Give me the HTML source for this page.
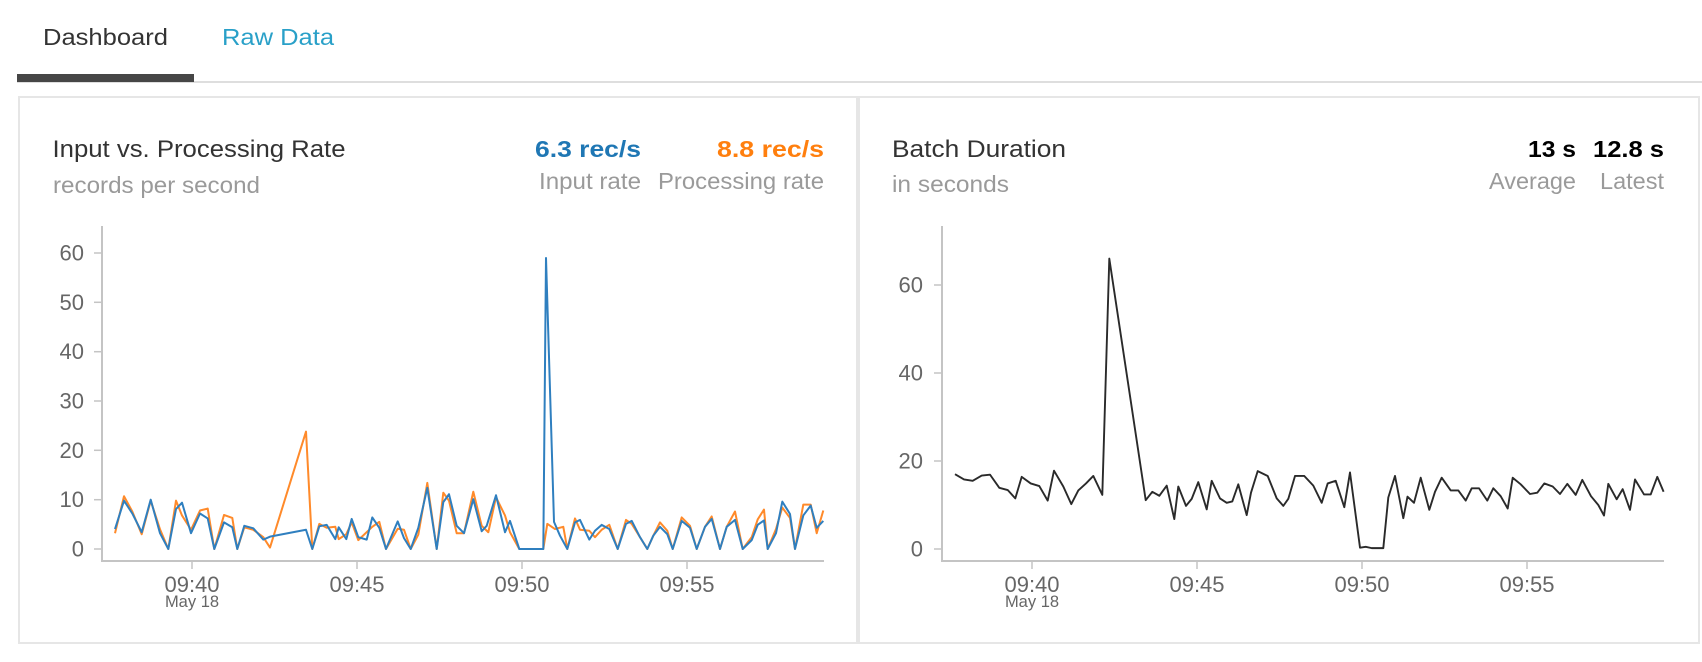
<!DOCTYPE html>
<html>
<head>
<meta charset="utf-8">
<style>
  html, body { margin: 0; padding: 0; background: #fff; }
  body { width: 1702px; height: 662px; overflow: hidden; }
  svg { display: block; }
  text { font-family: "Liberation Sans", Arial, Helvetica, sans-serif; }
</style>
</head>
<body>
<svg width="1702" height="662" viewBox="0 0 1702 662" xmlns="http://www.w3.org/2000/svg">
  <rect x="0" y="0" width="1702" height="662" fill="#ffffff"/>

  <!-- Tabs -->
  <text x="43" y="45" font-size="23" fill="#333" textLength="125" lengthAdjust="spacingAndGlyphs">Dashboard</text>
  <text x="222" y="45" font-size="23" fill="#29a0c8" textLength="112" lengthAdjust="spacingAndGlyphs">Raw Data</text>
  <rect x="17" y="81" width="1685" height="2" fill="#dedede"/>
  <rect x="17" y="74" width="177" height="8" fill="#464646"/>

  <!-- Panels -->
  <rect x="19" y="97" width="838" height="546" fill="none" stroke="#e6e6e6" stroke-width="2"/>
  <rect x="859" y="97" width="840" height="546" fill="none" stroke="#e6e6e6" stroke-width="2"/>

  <!-- Left panel header -->
  <text x="52.5" y="157" font-size="24" fill="#333" textLength="293" lengthAdjust="spacingAndGlyphs">Input vs. Processing Rate</text>
  <text x="53" y="193" font-size="23" fill="#9a9a9a" textLength="207" lengthAdjust="spacingAndGlyphs">records per second</text>
  <text x="535" y="157" font-size="23" font-weight="bold" fill="#1f77b4" textLength="106" lengthAdjust="spacingAndGlyphs">6.3 rec/s</text>
  <text x="717" y="157" font-size="23" font-weight="bold" fill="#ff7f0e" textLength="107" lengthAdjust="spacingAndGlyphs">8.8 rec/s</text>
  <text x="539" y="189" font-size="23" fill="#9a9a9a" textLength="102" lengthAdjust="spacingAndGlyphs">Input rate</text>
  <text x="658" y="189" font-size="23" fill="#9a9a9a" textLength="166" lengthAdjust="spacingAndGlyphs">Processing rate</text>

  <!-- Right panel header -->
  <text x="892" y="157" font-size="24" fill="#333" textLength="174" lengthAdjust="spacingAndGlyphs">Batch Duration</text>
  <text x="892" y="192" font-size="23" fill="#9a9a9a" textLength="117" lengthAdjust="spacingAndGlyphs">in seconds</text>
  <text x="1528" y="157" font-size="23" font-weight="bold" fill="#000" textLength="48" lengthAdjust="spacingAndGlyphs">13 s</text>
  <text x="1593" y="157" font-size="23" font-weight="bold" fill="#000" textLength="71" lengthAdjust="spacingAndGlyphs">12.8 s</text>
  <text x="1489" y="189" font-size="23" fill="#9a9a9a" textLength="87" lengthAdjust="spacingAndGlyphs">Average</text>
  <text x="1600" y="189" font-size="23" fill="#9a9a9a" textLength="64" lengthAdjust="spacingAndGlyphs">Latest</text>

  <!-- LEFT CHART AXES -->
  <g stroke="#c4c4c4" fill="none">
    <line x1="102" y1="226" x2="102" y2="562" stroke-width="2"/>
    <line x1="101" y1="561" x2="824" y2="561" stroke-width="2"/>
    <g stroke-width="1.5">
      <line x1="94" y1="549" x2="102" y2="549"/>
      <line x1="94" y1="499.7" x2="102" y2="499.7"/>
      <line x1="94" y1="450.3" x2="102" y2="450.3"/>
      <line x1="94" y1="401" x2="102" y2="401"/>
      <line x1="94" y1="351.7" x2="102" y2="351.7"/>
      <line x1="94" y1="302.3" x2="102" y2="302.3"/>
      <line x1="94" y1="253" x2="102" y2="253"/>
      <line x1="192" y1="561" x2="192" y2="569"/>
      <line x1="357" y1="561" x2="357" y2="569"/>
      <line x1="522" y1="561" x2="522" y2="569"/>
      <line x1="687" y1="561" x2="687" y2="569"/>
    </g>
  </g>
  <g font-size="22" fill="#666" text-anchor="end">
    <text x="84" y="556.5">0</text>
    <text x="84" y="507.2">10</text>
    <text x="84" y="457.8">20</text>
    <text x="84" y="408.5">30</text>
    <text x="84" y="359.2">40</text>
    <text x="84" y="309.8">50</text>
    <text x="84" y="260.5">60</text>
  </g>
  <g font-size="22" fill="#666" text-anchor="middle">
    <text x="192" y="592">09:40</text>
    <text x="357" y="592">09:45</text>
    <text x="522" y="592">09:50</text>
    <text x="687" y="592">09:55</text>
  </g>
  <text x="192" y="607" font-size="16.5" fill="#666" text-anchor="middle">May 18</text>

  <!-- LEFT CHART DATA -->
  <g transform="matrix(1 0 0 -4.933 0 549)" fill="none" stroke-linejoin="round">
    <polyline vector-effect="non-scaling-stroke" stroke="#ff8a2a" stroke-width="2" points="
115,3.2 124,10.7 132.3,7.6 141.7,3.0 150.7,9.8 160,4.0 168.3,0 176,9.8 182,6.8 191,3.9 200,7.8 207.7,8.2 214.3,0 224,6.9 232.3,6.3 237.3,0 244.3,4.4 253.3,3.9 263.3,2.4 270,0.3 306,23.8 312.3,0 319.3,5.1 326.7,4.3 335.3,4.5 338.7,2.0 346.3,3.0 351.7,5.4 358.3,1.8 372.3,4.5 379.3,5.5 386,0 397.7,4.1 404,3.9 410.7,0 418.3,2.9 427.3,13.4 436.7,0 443.3,11.4 449,9.8 456.7,3.2 464,3.2 473.3,11.6 481.7,4.7 488.3,3.4 496,10.5 505,6.8 510,3.4 519.3,0 543.3,0 547.3,5.1 555,4.05 563.3,4.5 567.3,0 575,6.2 580,3.9 589.3,3.7 595,2.4 601.7,3.9 609.3,4.9 617.7,0 626,5.9 631.7,5.1 640,2.4 647.3,0 653.3,2.7 660,5.4 667.3,3.7 672.7,0 681.7,6.4 690,4.7 696.7,0 705,4.5 711.7,6.6 720,0 726.7,4.5 735,7.6 742.7,0 751.7,2.4 757.7,6.0 764,8.0 767.7,0 776,4.05 782.3,8.4 790,6.3 795,0 803.3,9.0 810.7,9.0 816.7,3.2 823.3,7.8"/>
    <polyline vector-effect="non-scaling-stroke" stroke="#2f7fbf" stroke-width="2" points="
115,4.05 124,9.8 132.3,7.2 141.7,3.4 150.7,10 160,3.2 168.3,0 176,8.1 182,9.4 191,3.2 200,7.2 207.7,6.2 214.3,0 224,5.4 232.3,4.4 237.3,0 244.3,4.7 253.3,4.2 263.3,1.9 270,2.5 306,3.9 312.3,0 319.3,4.6 326.7,4.9 335.3,2.0 338.7,4.4 346.3,2.0 351.7,6.1 358.3,2.4 366.7,1.9 372.3,6.4 379.3,4.3 386,0 397.7,5.6 404,2.2 410.7,0 418.3,4.3 427.3,12.4 436.7,0 443.3,9.5 449,11.1 456.7,4.7 464,3.2 473.3,10.1 481.7,3.6 486.7,4.7 496,10.9 505,3.4 510,5.7 519.3,0 543.3,0 546,59 554,5.5 560,2.7 567.3,0 575,5.4 580,5.9 589.3,1.9 595,3.7 601.7,4.9 609.3,4.05 617.7,0 626,5.1 631.7,5.7 640,2.4 647.3,0 653.3,2.7 660,4.5 667.3,3.0 672.7,0 681.7,5.7 690,4.3 696.7,0 705,4.5 711.7,6.1 720,0 726.7,4.5 735,5.9 742.7,0 751.7,1.8 757.7,4.9 764,5.8 767.7,0 776,3.2 782.3,9.6 790,7.1 795,0 803.3,6.8 810.7,8.8 816.7,4.3 823.3,5.7"/>
  </g>

  <!-- RIGHT CHART AXES -->
  <g stroke="#c4c4c4" fill="none">
    <line x1="942" y1="226" x2="942" y2="562" stroke-width="2"/>
    <line x1="941" y1="561" x2="1664" y2="561" stroke-width="2"/>
    <g stroke-width="1.5">
      <line x1="934" y1="549" x2="942" y2="549"/>
      <line x1="934" y1="461" x2="942" y2="461"/>
      <line x1="934" y1="373" x2="942" y2="373"/>
      <line x1="934" y1="285" x2="942" y2="285"/>
      <line x1="1032" y1="561" x2="1032" y2="569"/>
      <line x1="1197" y1="561" x2="1197" y2="569"/>
      <line x1="1362" y1="561" x2="1362" y2="569"/>
      <line x1="1527" y1="561" x2="1527" y2="569"/>
    </g>
  </g>
  <g font-size="22" fill="#666" text-anchor="end">
    <text x="923" y="556.5">0</text>
    <text x="923" y="468.5">20</text>
    <text x="923" y="380.5">40</text>
    <text x="923" y="292.5">60</text>
  </g>
  <g font-size="22" fill="#666" text-anchor="middle">
    <text x="1032" y="592">09:40</text>
    <text x="1197" y="592">09:45</text>
    <text x="1362" y="592">09:50</text>
    <text x="1527" y="592">09:55</text>
  </g>
  <text x="1032" y="607" font-size="16.5" fill="#666" text-anchor="middle">May 18</text>

  <!-- RIGHT CHART DATA -->
  <g transform="matrix(1 0 0 -4.4 0 549)" fill="none" stroke-linejoin="round">
    <polyline vector-effect="non-scaling-stroke" stroke="#2a2a2a" stroke-width="1.9" points="
955,17.0 964,15.8 972.7,15.5 981.7,16.7 990,16.9 999.3,13.9 1007.7,13.4 1015.3,11.5 1021.7,16.4 1030.7,14.9 1039.3,14.3 1047.7,11.0 1054,17.8 1063.3,14.2 1071.3,10.2 1078.3,13.3 1086,14.9 1093.3,16.6 1102.3,12.3 1109.3,66 1145.7,11.1 1152.3,13.0 1159.3,12.1 1166.7,14.4 1174.3,6.8 1178.3,14.2 1186,9.8 1191.7,11.4 1198.3,15.2 1206.7,9.0 1211.7,15.5 1220,11.5 1226.7,10.5 1232.3,10.8 1238.3,14.7 1246.7,7.7 1251,12.8 1257.7,17.7 1267.7,16.6 1276.7,11.5 1283.3,9.8 1288.3,11.4 1295,16.6 1304.3,16.6 1313.3,14.4 1321.7,10.5 1327.7,14.9 1335.7,15.5 1344.3,9.5 1350,17.4 1360,0.3 1365.7,0.5 1371.7,0.2 1383.3,0.2 1388.3,11.7 1395,16.6 1403.3,7.0 1407.5,11.9 1414,10.5 1420.7,16.2 1429.3,8.9 1435,13.0 1441.7,16.2 1450.7,13.3 1458.3,13.3 1465.7,11.0 1471.7,13.8 1479,13.8 1487.3,11.0 1493.3,13.8 1500.7,12.0 1507.7,9.2 1512.7,16.2 1520.7,14.7 1530,12.5 1537.3,12.8 1544.3,14.9 1552.7,14.2 1560,12.5 1567.3,14.8 1575.7,12.3 1582.3,15.7 1591,12.0 1598.3,10.0 1604,7.6 1608.3,14.8 1616.7,11.3 1622.7,13.6 1630,8.9 1635,15.8 1644,12.4 1650.7,12.4 1657.3,16.4 1663.6,13.0"/>
  </g>
</svg>
</body>
</html>
